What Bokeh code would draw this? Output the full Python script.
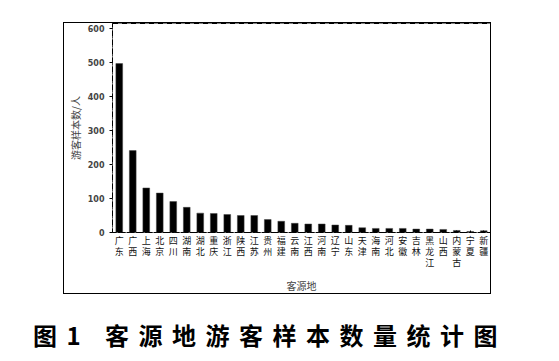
from bokeh.plotting import figure
from bokeh.models import (Div, FactorRange, Range1d, ColumnDataSource, FixedTicker, LinearAxis)
from bokeh.layouts import column
from bokeh.embed import file_html
from bokeh.resources import INLINE

provinces = ["广东", "广西", "上海", "北京", "四川", "湖南", "湖北", "重庆", "浙江", "陕西",
             "江苏", "贵州", "福建", "云南", "江西", "河南", "辽宁", "山东", "天津", "海南",
             "河北", "安徽", "吉林", "黑龙江", "山西", "内蒙古", "宁夏", "新疆"]
counts = [497, 241, 131, 116, 91, 74, 57, 56, 53, 50,
          50, 38, 33, 27, 25, 25, 22, 21, 14, 12,
          12, 12, 10, 10, 9, 6, 3, 5]
y_ticks = [0, 100, 200, 300, 400, 500, 600]
title_text = "图1 客源地游客样本数量统计图"
x_title = "客源地"
y_title = "游客样本数/人"

source = ColumnDataSource(data=dict(prov=provinces, count=counts))

p = figure(x_range=FactorRange(factors=provinces, range_padding=0),
           y_range=Range1d(0, 615),
           width=428, height=272,
           output_backend="svg", toolbar_location=None,
           x_axis_location=None,
           min_border_left=48, min_border_right=2,
           min_border_top=0, min_border_bottom=20)
p.margin = (22, 0, 0, 63)
p.styles = {"border": "1px solid black"}

p.vbar(x="prov", top="count", width=0.5, source=source,
       fill_color="black", line_color="#444444", line_width=0.5)

p.xgrid.visible = False
p.ygrid.visible = False
p.outline_line_color = "black"
p.outline_line_width = 1
p.outline_line_dash = "6 1 1 1"

ya = p.yaxis[0]
ya.axis_line_color = "black"
ya.axis_line_dash = "4 2 1 2"
ya.major_tick_line_color = "black"
ya.minor_tick_line_color = None
ya.ticker = FixedTicker(ticks=y_ticks)
ya.major_tick_in = 0
ya.major_tick_out = 3
ya.major_label_standoff = 5
ya.major_label_text_font = "DejaVu Sans"
ya.major_label_text_font_size = "8px"
ya.major_label_text_font_style = "bold"
ya.axis_label = y_title
ya.axis_label_text_font = "Noto Sans CJK SC"
ya.axis_label_text_font_size = "10px"
ya.axis_label_text_font_style = "normal"
ya.axis_label_standoff = 2

lbl_font = "Noto Sans CJK SC"
lbl_size = "9px"

# category labels written vertically: one axis row per character
n_rows = max(len(n) for n in provinces)
for k in range(n_rows):
    pos = [i + 0.5 for i, n in enumerate(provinces) if len(n) > k]
    chars = [n[k] for n in provinces if len(n) > k]
    ax = LinearAxis(ticker=FixedTicker(ticks=pos),
                    major_label_overrides=dict(zip(pos, chars)),
                    minor_tick_line_color=None,
                    major_label_text_font=lbl_font,
                    major_label_text_font_size=lbl_size,
                    major_label_text_line_height=1.0,
                    major_label_text_color="#111111")
    if k == 0:
        ax.axis_line_color = "black"
        ax.axis_line_dash = "4 2 1 2"
        ax.major_tick_line_color = "black"
        ax.major_tick_in = 2
        ax.major_tick_out = 0
        ax.major_label_standoff = 1
    else:
        ax.axis_line_color = None
        ax.major_tick_line_color = None
        ax.major_tick_in = 0
        ax.major_tick_out = 0
        ax.major_label_standoff = -5
    if k == n_rows - 1:
        ax.axis_label = x_title
        ax.axis_label_text_font = "Noto Sans CJK SC"
        ax.axis_label_text_font_size = "10px"
        ax.axis_label_text_font_style = "normal"
        ax.axis_label_standoff = 6
    p.add_layout(ax, "below")

title = Div(text=title_text, width=540, height=34,
            styles={"font-family": "'Noto Sans CJK SC'", "font-size": "24px",
                    "font-weight": "bold", "letter-spacing": "9.5px",
                    "padding-left": "33px", "color": "black",
                    "white-space": "nowrap"})
title.margin = (24, 0, 0, 0)

layout = column(p, title)
open("out.html", "w").write(file_html(layout, INLINE))
